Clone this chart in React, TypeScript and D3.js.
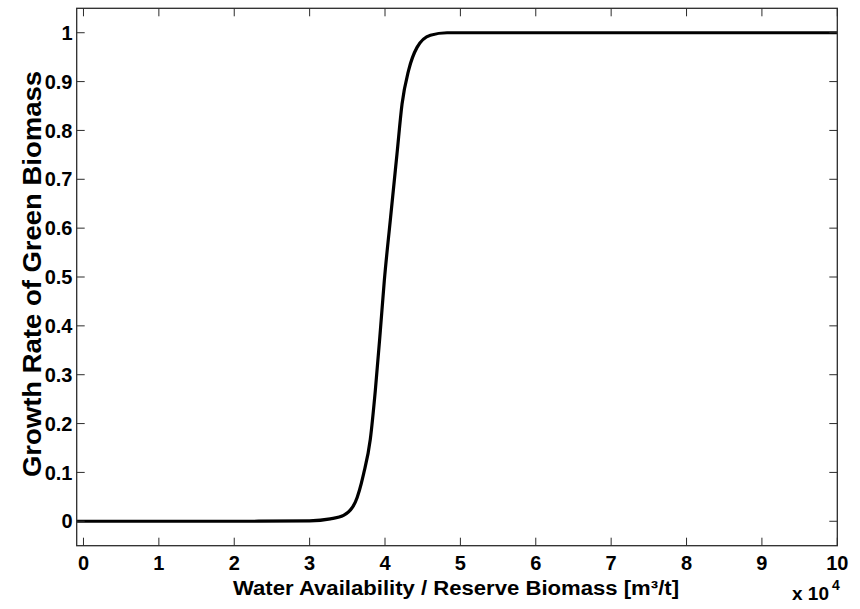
import React from 'react';
import * as d3 from 'd3';

// curve points (x in m3/t, y growth rate)
const waterRatio = [-900, 10000, 20000, 30000, 32740, 34500, 36060, 37160, 38050, 38710, 39380, 39910, 40700, 41590, 42260, 43130, 44250, 46020, 48230, 50000, 60000, 80000, 100000];
const growthRate = [0, 0, 0, 0.001, 0.005, 0.012, 0.039, 0.097, 0.168, 0.267, 0.39, 0.493, 0.616, 0.752, 0.854, 0.923, 0.97, 0.995, 1.0, 1, 1, 1, 1];

const xTicks = [0, 10000, 20000, 30000, 40000, 50000, 60000, 70000, 80000, 90000, 100000];
const yTicks = [0, 0.1, 0.2, 0.3, 0.4, 0.5, 0.6, 0.7, 0.8, 0.9, 1];

export default function App() {
    const W = 860;
    const H = 609;
    const box = { left: 76.7, right: 837.3, top: 8.3, bottom: 545.7 };
    const font = '"Liberation Sans", Arial, sans-serif';
    const tickLen = 8;
    const axisColor = '#2b2b2b';

    const xScale = d3.scaleLinear().domain([-900, 100000]).range([box.left, box.right]);
    const yScale = d3.scaleLinear().domain([-0.05, 1.05]).range([box.bottom, box.top]);

    const points = waterRatio.map((x, i) => [x, growthRate[i]] as [number, number]);
    const line = d3.line<[number, number]>()
        .x(d => xScale(d[0]))
        .y(d => yScale(d[1]))
        .curve(d3.curveMonotoneX);

    return (
        <svg width={W} height={H} style={{ position: 'absolute', left: 0, top: 0, background: '#fff' }}>
            <rect x={0} y={0} width={W} height={H} fill="#fff" />

            {/* curve */}
            <path d={line(points) || ''} fill="none" stroke="#000" strokeWidth={3.2} strokeLinejoin="round" />

            {/* ticks, pointing inward on all four sides */}
            <g stroke={axisColor} strokeWidth={1}>
                {xTicks.map(t => (
                    <g key={t}>
                        <line x1={xScale(t)} x2={xScale(t)} y1={box.bottom} y2={box.bottom - tickLen} />
                        <line x1={xScale(t)} x2={xScale(t)} y1={box.top} y2={box.top + tickLen} />
                    </g>
                ))}
                {yTicks.map(t => (
                    <g key={t}>
                        <line x1={box.left} x2={box.left + tickLen} y1={yScale(t)} y2={yScale(t)} />
                        <line x1={box.right} x2={box.right - tickLen} y1={yScale(t)} y2={yScale(t)} />
                    </g>
                ))}
            </g>

            {/* axes box */}
            <rect x={box.left} y={box.top} width={box.right - box.left} height={box.bottom - box.top}
                fill="none" stroke={axisColor} strokeWidth={1.3} />

            {/* tick labels */}
            <g fontFamily={font} fontWeight="bold" fontSize={20} fill="#000">
                {xTicks.map(t => (
                    <text key={t} x={xScale(t)} y={570} textAnchor="middle">{t / 10000}</text>
                ))}
                {yTicks.map(t => (
                    <text key={t} x={72.5} y={yScale(t)} dy="0.36em" textAnchor="end">{t === 0 || t === 1 ? t : t.toFixed(1)}</text>
                ))}
            </g>

            {/* exponent */}
            <text x={792} y={600} fontFamily={font} fontWeight="bold" fontSize={19}>x 10</text>
            <text x={832} y={590} fontFamily={font} fontWeight="bold" fontSize={14}>4</text>

            {/* axis titles */}
            <text x={456} y={595} textAnchor="middle" fontFamily={font} fontWeight="bold" fontSize={20}
                textLength={446} lengthAdjust="spacingAndGlyphs">
                Water Availability / Reserve Biomass [m³/t]
            </text>
            <text transform="translate(41, 274) rotate(-90)" textAnchor="middle"
                fontFamily={font} fontWeight="bold" fontSize={25} textLength={406} lengthAdjust="spacingAndGlyphs">
                Growth Rate of Green Biomass
            </text>
        </svg>
    );
}
